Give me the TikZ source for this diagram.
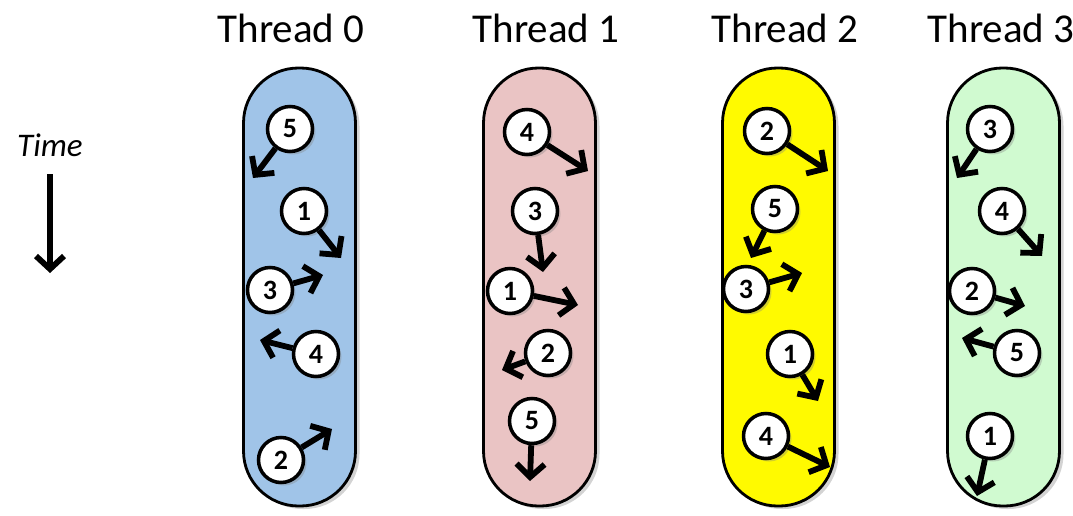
\documentclass[tikz,border=0pt]{standalone}
\usepackage{fontspec}
\setmainfont{Carlito}
\usepackage{tikz}
\usetikzlibrary{positioning, arrows.meta, shadows}

\definecolor{lane0}{RGB}{160,196,232}
\definecolor{lane1}{RGB}{234,196,196}
\definecolor{lane2}{RGB}{255,250,0}
\definecolor{lane3}{RGB}{208,250,208}

\begin{document}
\begin{tikzpicture}[x=1pt, y=-1pt,
	lane/.style={draw, line width=2.8pt, rounded corners=55pt, minimum width=112pt, minimum height=438pt,
		drop shadow={shadow xshift=4pt, shadow yshift=-3pt, opacity=0.35}},
	job/.style={circle, draw, fill=white, line width=3.5pt, minimum size=45pt, inner sep=0pt,
		font=\fontsize{28}{28}\selectfont\bfseries,
		drop shadow={shadow xshift=3pt, shadow yshift=-3pt, opacity=0.35}},
	move/.style={line width=5.8pt, -{Straight Barb[length=13pt,width=28pt]}},
	title/.style={font=\fontsize{41}{41}\selectfont}]
	\useasboundingbox (0,0) rectangle (1073,516);

	% time axis
	\node[font=\fontsize{33}{33}\selectfont\itshape] (time) at (50,145) {Time};
	\coordinate (t1) at (50,174);
	\coordinate (t2) at (50,273);
	\draw (t1) edge[move] (t2);

	% threads
	\node[title] (h0) at (291,28) {Thread 0};
	\node[title] (h1) at (546,28) {Thread 1};
	\node[title] (h2) at (785,28) {Thread 2};
	\node[title] (h3) at (1001,28) {Thread 3};
	\node[lane, fill=lane0] (l0) at (299.5,287) {};
	\node[lane, fill=lane1] (l1) at (539.5,287) {};
	\node[lane, fill=lane2] (l2) at (778.5,287) {};
	\node[lane, fill=lane3] (l3) at (1003.5,287) {};

	% thread 0
	\node[job] (a5) at (290,129) {5};
	\node[job] (a1) at (304,211) {1};
	\node[job] (a3) at (270,290) {3};
	\node[job] (a4) at (316,354) {4};
	\node[job] (a2) at (281,460) {2};
	\coordinate (ae5) at (253,178);
	\coordinate (ae1) at (341,258);
	\coordinate (ae3) at (323,275);
	\coordinate (ae4) at (260,340);
	\coordinate (ae2) at (332,429);
	\draw	(a5) edge[move] (ae5)
			(a1) edge[move] (ae1)
			(a3) edge[move] (ae3)
			(a4) edge[move] (ae4)
			(a2) edge[move] (ae2);

	% thread 1
	\node[job] (b4) at (527,132) {4};
	\node[job] (b3) at (535,211) {3};
	\node[job] (b1) at (510,291) {1};
	\node[job] (b2) at (548,353) {2};
	\node[job] (b5) at (532,421) {5};
	\coordinate (be4) at (588,171);
	\coordinate (be3) at (543,272);
	\coordinate (be1) at (578,305);
	\coordinate (be2) at (502,370);
	\coordinate (be5) at (530,481);
	\draw	(b4) edge[move] (be4)
			(b3) edge[move] (be3)
			(b1) edge[move] (be1)
			(b2) edge[move] (be2)
			(b5) edge[move] (be5);

	% thread 2
	\node[job] (c2) at (767,131) {2};
	\node[job] (c5) at (775,209) {5};
	\node[job] (c3) at (746,289) {3};
	\node[job] (c1) at (790,354) {1};
	\node[job] (c4) at (766,436) {4};
	\coordinate (ce2) at (828,171);
	\coordinate (ce5) at (751,258);
	\coordinate (ce3) at (802,273);
	\coordinate (ce1) at (818,401);
	\coordinate (ce4) at (830,467);
	\draw	(c2) edge[move] (ce2)
			(c5) edge[move] (ce5)
			(c3) edge[move] (ce3)
			(c1) edge[move] (ce1)
			(c4) edge[move] (ce4);

	% thread 3
	\node[job] (d3) at (990,129) {3};
	\node[job] (d4) at (1002,211) {4};
	\node[job] (d2) at (972,291) {2};
	\node[job] (d5) at (1017,353) {5};
	\node[job] (d1) at (990,436) {1};
	\coordinate (de3) at (957,178);
	\coordinate (de4) at (1042,256);
	\coordinate (de2) at (1025,306);
	\coordinate (de5) at (962,338);
	\coordinate (de1) at (977,496);
	\draw	(d3) edge[move] (de3)
			(d4) edge[move] (de4)
			(d2) edge[move] (de2)
			(d5) edge[move] (de5)
			(d1) edge[move] (de1);
\end{tikzpicture}
\end{document}
